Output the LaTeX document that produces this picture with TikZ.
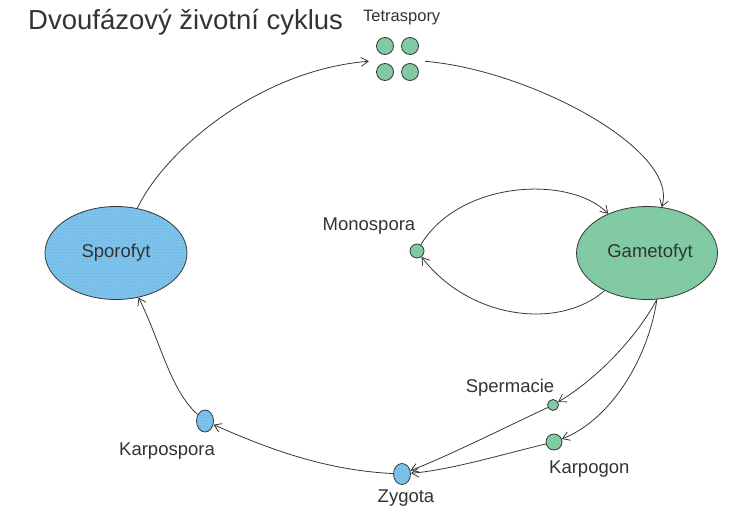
\documentclass[tikz,border=0pt]{standalone}
\usepackage{fontspec}
\setmainfont{Liberation Sans}
\usetikzlibrary{arrows.meta,patterns,shapes.geometric}
\definecolor{gfill}{RGB}{128,204,160}
\definecolor{bfill}{RGB}{125,196,234}
\definecolor{lnc}{RGB}{55,55,55}
\tikzset{
  gnode/.style={ellipse,draw=lnc,line width=0.8pt,preaction={fill=gfill},pattern=dots,pattern color=gfill!70!blue!70,inner sep=0pt},
  bnode/.style={ellipse,draw=lnc,line width=0.8pt,preaction={fill=bfill},pattern=dots,pattern color=bfill!70!blue,inner sep=0pt},
  lbl/.style={font=\fontsize{18.5}{18.5}\selectfont,text=black!80,inner sep=0pt},
  conn/.style={draw=lnc,line width=0.8pt,-{Straight Barb[length=7pt,width=9pt]}}
}
\begin{document}
\begin{tikzpicture}[x=1pt,y=-1pt]
\useasboundingbox (0,0) rectangle (738,511);
% title
\node[anchor=base west,inner sep=0pt,font=\fontsize{27.5}{27.5}\selectfont,text=black!80] (title) at (28,30) {Dvoufázový životní cyklus};
\node[anchor=base west,lbl,font=\fontsize{16.5}{16.5}\selectfont] (tetl) at (363,22) {Tetraspory};
% tetraspores
\node[gnode,circle,minimum size=17pt] (t1) at (385,46) {};
\node[gnode,circle,minimum size=17pt] (t2) at (410,46) {};
\node[gnode,circle,minimum size=17pt] (t3) at (385,72) {};
\node[gnode,circle,minimum size=17pt] (t4) at (410,72) {};
\node[rectangle,minimum width=56pt,minimum height=45pt,inner sep=0pt] (tet) at (397,59) {};
% main phases
\node[bnode,minimum width=142pt,minimum height=93pt] (spo) at (116,253) {};
\node[lbl] (spol) at (116,253) {Sporofyt};
\node[gnode,minimum width=141pt,minimum height=93pt] (gam) at (647,253) {};
\node[lbl] (gaml) at (650,253) {Gametofyt};
% small stages
\node[gnode,circle,minimum size=14pt] (mono) at (417,251) {};
\node[lbl,anchor=base] (monol) at (369,230) {Monospora};
\node[gnode,circle,minimum size=11pt] (sperm) at (553,405) {};
\node[lbl,anchor=base] (sperml) at (510,392) {Spermacie};
\node[gnode,circle,minimum size=16pt] (karp) at (554,442) {};
\node[lbl,anchor=base west] (karpl) at (549,473) {Karpogon};
\node[bnode,minimum width=17pt,minimum height=21pt] (zyg) at (402,474) {};
\node[lbl,anchor=base] (zygl) at (406,502) {Zygota};
\node[bnode,minimum width=17pt,minimum height=22pt] (karpo) at (205,421) {};
\node[lbl,anchor=base] (karpol) at (167,455) {Karpospora};
% connectors
\draw[conn] (spo) .. controls (165,150) and (260,70) .. (tet);
\draw[conn] (tet) .. controls (530,70) and (680,150) .. (gam);
\draw[conn] (mono) .. controls (460,180) and (570,175) .. (gam);
\draw[conn] (gam) .. controls (560,330) and (470,320) .. (mono);
\draw[conn] (gam.-78) .. controls (635,340) and (595,380) .. (sperm);
\draw[conn] (gam.-78) .. controls (648,360) and (610,420) .. (karp);
\draw[conn] (sperm) .. controls (500,430) and (450,455) .. (zyg);
\draw[conn] (karp) .. controls (500,455) and (450,470) .. (zyg);
\draw[conn] (zyg) .. controls (320,470) and (260,445) .. (karpo);
\draw[conn] (karpo) .. controls (170,390) and (160,340) .. (spo);
\end{tikzpicture}
\end{document}
